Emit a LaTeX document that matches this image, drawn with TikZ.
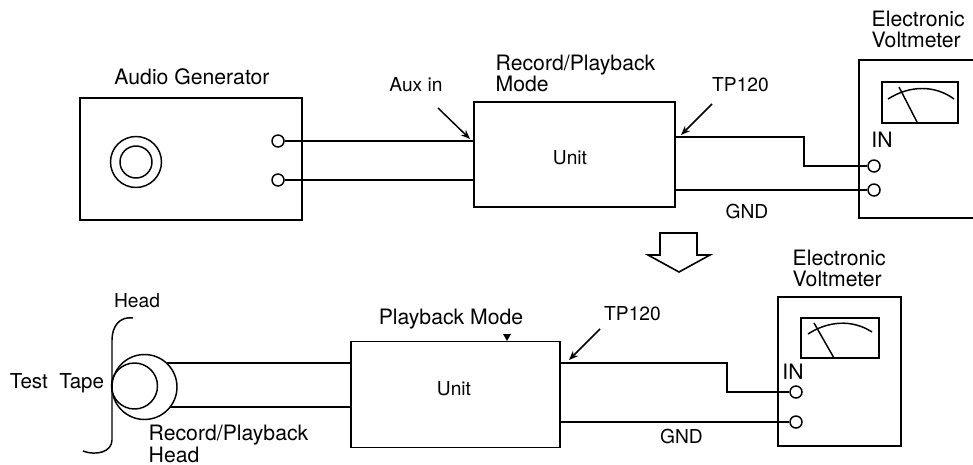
\documentclass[tikz,border=0pt]{standalone}
\usepackage{fontspec}
\setmainfont{TeX Gyre Heros}
\usetikzlibrary{arrows.meta}
\def\uu{0.75pt}
\tikzset{
  every path/.style={line width=1.1pt,line join=miter},
  lbl/.style={inner sep=0pt,font=\fontsize{15.9}{15.9}\selectfont,align=left},
  lblsm/.style={lbl,font=\fontsize{14.4}{15.9}\selectfont},
  boxn/.style={draw,inner sep=0pt,rectangle},
  term/.style={draw,circle,inner sep=0pt,minimum size=12*\uu,fill=white},
  wire/.style={line width=1.2pt},
  ptr/.style={line width=1.1pt,-{Stealth[length=7pt,width=5.5pt]}},
}
\begin{document}
\begin{tikzpicture}[x=\uu,y=-\uu]
\useasboundingbox (0,0) rectangle (973,464);
% ---------- upper row ----------
\node[boxn,minimum width=222*\uu,minimum height=122*\uu] (gen) at (191,159) {};
\node[draw,circle,inner sep=0pt,minimum size=51*\uu] (jackO) at (136,162) {};
\node[draw,circle,inner sep=0pt,minimum size=32*\uu] (jackI) at (136,162) {};
\node[term] (g1) at (278,141) {};
\node[term] (g2) at (278,180) {};
\node[boxn,minimum width=201*\uu,minimum height=105*\uu] (unitA) at (574.5,154.5) {};
\node[lblsm] (unitAt) at (570,158) {Unit};
\node[lbl] (genT) at (192,77) {Audio Generator};
\node[lblsm] (auxT) at (416,85) {Aux in};
\node[lbl,anchor=west] (rpT) at (495,73.5) {Record/Playback\\Mode};
\node[lblsm] (tpA) at (740.5,85) {TP120};
\node[lblsm] (gndA) at (747,211) {GND};
\node[lbl,anchor=west] (evA) at (871,29.5) {Electronic\\Voltmeter};
\node[lbl] (inA) at (882,140) {IN};
% voltmeter A (open at the page edge)
\coordinate (vaTR) at (973,60);
\coordinate (vaTL) at (859,60);
\coordinate (vaBL) at (859,218);
\coordinate (vaBR) at (973,218);
\draw (vaTR) -- (vaTL) -- (vaBL) -- (vaBR);
\node[boxn,minimum width=76*\uu,minimum height=41*\uu] (mA) at (920,102.5) {};
\draw (888,99) .. controls (910,85) and (935,85) .. (954,99);
\draw (899,87) -- (917,122);
\node[term] (a1) at (874,166) {};
\node[term] (a2) at (874,190) {};
% wires A
\draw[wire] (g1) -- (unitA.west |- g1);
\draw[wire] (g2) -- (unitA.west |- g2);
\coordinate (kA1) at (804,137);
\coordinate (kA2) at (804,166);
\draw[wire] (unitA.east |- kA1) -- (kA1) -- (kA2) -- (a1);
\draw[wire] (unitA.east |- a2) -- (a2);
\coordinate (pA1) at (438,108);
\coordinate (pA2) at (470,139);
\draw[ptr] (pA1) -- (pA2);
\coordinate (pA3) at (712,104);
\coordinate (pA4) at (681,135);
\draw[ptr] (pA3) -- (pA4);
% hollow arrow
\draw[line width=1.2pt] (660,233) -- (697,233) -- (697,255) -- (710,255) -- (679,272) -- (648,255) -- (660,255) -- cycle;
% ---------- lower row ----------
\node[boxn,minimum width=209*\uu,minimum height=105.5*\uu] (unitB) at (455.5,394.5) {};
\node[lblsm] (unitBt) at (454,389) {Unit};
\node[lbl] (pbT) at (451,319) {Playback Mode};
\fill (503,334) -- (511,334) -- (507,341) -- cycle;
\node[lblsm] (tpB) at (632.5,314) {TP120};
\node[lblsm] (gndB) at (681.5,436) {GND};
\node[lbl,anchor=west] (evB) at (792,268.5) {Electronic\\Voltmeter};
\node[lbl] (inB) at (793,372) {IN};
\node[boxn,minimum width=123*\uu,minimum height=149*\uu] (vB) at (839.5,371.5) {};
\node[boxn,minimum width=78*\uu,minimum height=40*\uu] (mB) at (840,338) {};
\draw (808,334) .. controls (828,321) and (852,319) .. (872,332);
\draw (814,323) -- (834,358);
\node[term] (b1) at (796,392) {};
\node[term] (b2) at (796,422) {};
\coordinate (kB1) at (727,363);
\coordinate (kB2) at (727,392);
\draw[wire] (unitB.east |- kB1) -- (kB1) -- (kB2) -- (b1);
\draw[wire] (unitB.east |- b2) -- (b2);
\coordinate (pB1) at (600,329);
\coordinate (pB2) at (569,360);
\draw[ptr] (pB1) -- (pB2);
% head
\node[draw,circle,inner sep=0pt,minimum size=65*\uu] (hO) at (144.5,387) {};
\node[draw,circle,inner sep=0pt,minimum size=46*\uu] (hI) at (134.5,386) {};
\coordinate (h1) at (167,363);
\coordinate (h2) at (170,407);
\draw[wire] (h1) -- (unitB.west |- h1);
\draw[wire] (h2) -- (unitB.west |- h2);
\draw (133,318) .. controls (120,316) and (112,326) .. (112,340) -- (112,440) .. controls (112,452) and (96,456) .. (83,451);
\node[lblsm] (headT) at (137,301) {Head};
\node[lbl,font=\fontsize{15.4}{15.9}\selectfont] (tapeT) at (57,383) {Test\ \ Tape};
\node[lbl,anchor=west] (rphT) at (148,444) {Record/Playback\\Head};
\end{tikzpicture}
\end{document}
